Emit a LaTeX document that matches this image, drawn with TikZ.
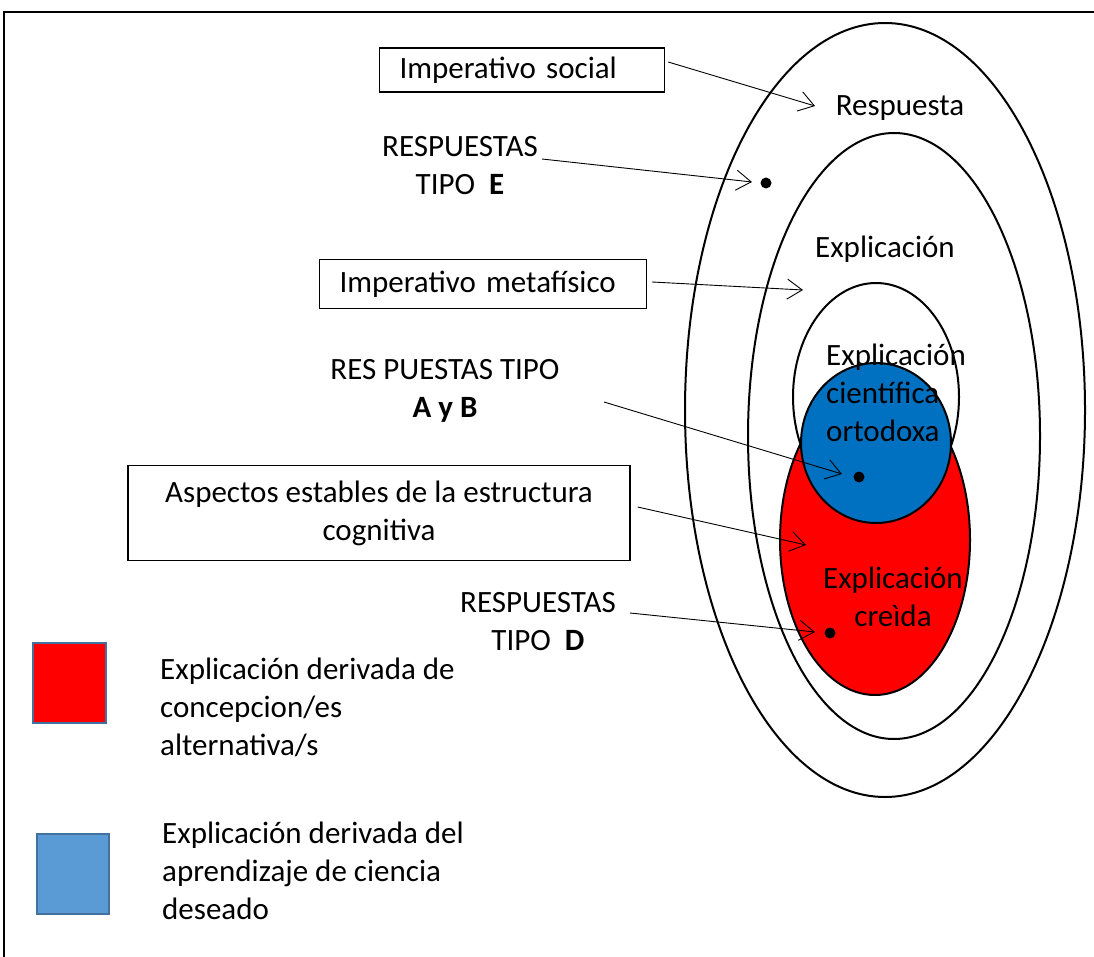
\documentclass[tikz,border=0pt]{standalone}
\usepackage{fontspec}
\setmainfont{Carlito}
\usetikzlibrary{arrows.meta}
\definecolor{ortoblue}{RGB}{0,112,192}
\definecolor{legblue}{RGB}{91,155,213}
\definecolor{legedge}{RGB}{65,113,156}
\tikzset{
  lbl/.style={font=\fontsize{31}{38}\selectfont, align=center, inner sep=0pt},
  labelbox/.style={lbl, draw, line width=1.4pt},
  pointer/.style={-{Straight Barb[length=15pt,width=20pt,line width=0.9pt]}, line width=0.9pt},
  ring/.style={line width=2pt}
}
\begin{document}
\begin{tikzpicture}[x=1pt,y=-1pt]
  \useasboundingbox (0,0) rectangle (1094,957);
  \coordinate (dE) at (766,183);
  \coordinate (dAB) at (859,477);
  \coordinate (dD) at (830,633);
  \coordinate (tAB) at (604,402);
  \coordinate (hR) at (815,106);
  \coordinate (hE) at (752,182);
  \coordinate (hM) at (803,290);
  \coordinate (hAB) at (842,474);
  \coordinate (hC) at (806,545);
  \coordinate (hD) at (815,632);
  % frame
  \draw[line width=1.4pt] (4,957) -- (4,12) -- (1094,12);
  % rings
  \draw[ring] (885,410) ellipse [x radius=200pt, y radius=387pt];
  \draw[ring] (894,436) ellipse [x radius=146pt, y radius=303pt];
  \draw[ring] (876,397) ellipse [x radius=83pt, y radius=114pt];
  % believed explanation
  \draw[ring, fill=red] (875,540) ellipse [x radius=95pt, y radius=155pt];
  % orthodox explanation
  \draw[ring, fill=ortoblue] (876,443) ellipse [x radius=75pt, y radius=80pt];
  % ring labels
  \node[lbl] (resp) at (900,108) {Respuesta};
  \node[lbl] (expl) at (885,249) {Explicación};
  \node[lbl, align=left, anchor=west] (orto) at (826,393) {Explicación\\científica\\ortodoxa};
  \node[lbl] (creida) at (893,597) {Explicación\\creìda};
  % boxes
  \node[labelbox, align=left, text width=245pt, inner xsep=20pt, minimum height=44pt] (social) at (522,70) {Imperativo social};
  \node[labelbox, align=left, text width=287pt, inner xsep=20pt, minimum height=49pt] (meta) at (483,284) {Imperativo metafísico};
  \node[labelbox, minimum width=502pt, minimum height=95pt] (cogn) at (379,513) {Aspectos estables de la estructura\\cognitiva};
  % answer types
  \node[lbl] (tipoE) at (460,166) {RESPUESTAS\\TIPO \ \textbf{E}};
  \node[lbl] (tipoAB) at (445,391) {RES PUESTAS TIPO\\\textbf{A y B}};
  \node[lbl] (tipoD) at (538,622) {RESPUESTAS\\TIPO \ \textbf{D}};
  % dots
  \fill (dE) circle (5.5pt);
  \fill (dAB) circle (5.5pt);
  \fill (dD) circle (5.5pt);
  % pointers
  \draw[pointer] ([shift={(3,-8)}]social.east) -- (hR);
  \draw[pointer] ([shift={(4,-7)}]tipoE.east) -- (hE);
  \draw[pointer] ([shift={(5,-2)}]meta.east) -- (hM);
  \draw[pointer] (tAB) -- (hAB);
  \draw[pointer] ([shift={(7,-6)}]cogn.east) -- (hC);
  \draw[pointer] ([shift={(14,-9)}]tipoD.east) -- (hD);
  % legend
  \draw[fill=red, draw=legedge, line width=1.4pt] (33,643) rectangle (106,723);
  \draw[fill=legblue, draw=legedge, line width=1.4pt] (37,834) rectangle (109,914);
  \node[lbl, align=left, anchor=west] (legred) at (160,707) {Explicación derivada de\\concepcion/es\\alternativa/s};
  \node[lbl, align=left, anchor=west] (legblue) at (162,871) {Explicación derivada del\\aprendizaje de ciencia\\deseado};
\end{tikzpicture}
\end{document}
